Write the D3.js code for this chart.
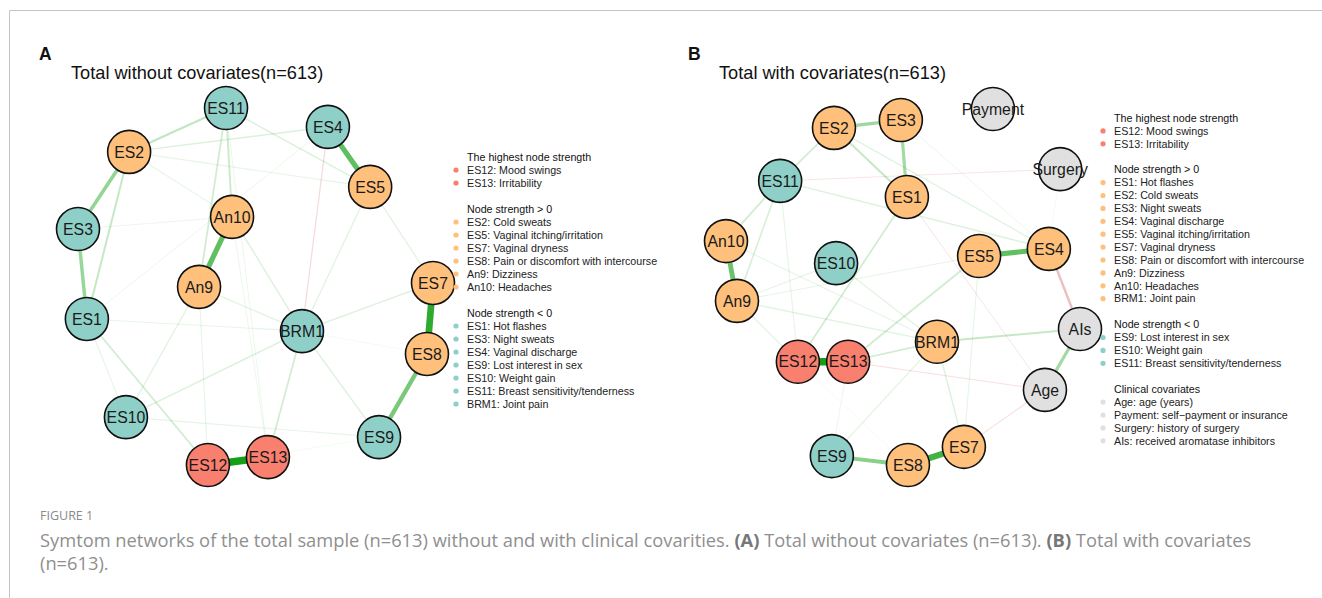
<!DOCTYPE html>
<html>
<head>
<meta charset="utf-8">
<script src="https://cdn.jsdelivr.net/npm/d3@7"></script>
<style>
  body { margin: 0; background: #fff; }
  svg { display: block; }
</style>
</head>
<body>
<div id="chart"></div>
<script>
// symptom networks, total sample, without (A) and with (B) covariates

// node colours by group
const groupColors = { top: "#f97f6f", pos: "#fec07b", neg: "#8ecfc7", cov: "#e0e0e0" };

// layout coordinates (0-100 units)
const nodesA = [
  ["ES11", "neg", 41.7, 100], ["ES4", "neg", 70.4, 94.7], ["ES2", "pos", 14.4, 87.7],
  ["ES5", "pos", 82.3, 77.9], ["An10", "pos", 43.4, 69.5], ["ES3", "neg", 0, 66.1],
  ["An9", "pos", 34.1, 49.9], ["ES1", "neg", 2.5, 40.9], ["BRM1", "neg", 63.1, 37.5],
  ["ES7", "pos", 100, 51.0], ["ES8", "pos", 98.3, 31.1], ["ES10", "neg", 13.5, 13.4],
  ["ES9", "neg", 84.8, 7.8], ["ES12", "top", 36.6, 0], ["ES13", "top", 53.5, 2.2]
];

const nodesB = [
  ["Payment", "cov", 75.4, 100], ["ES2", "pos", 30.5, 94.7], ["ES3", "pos", 49.4, 96.9],
  ["Surgery", "cov", 94.4, 83.1], ["ES11", "neg", 15.3, 79.8], ["ES1", "pos", 51.1, 75.3],
  ["An10", "pos", 0, 62.9], ["ES5", "pos", 71.5, 58.7], ["ES4", "pos", 91.2, 60.7],
  ["ES10", "neg", 31.1, 56.7], ["An9", "pos", 3.1, 46.1], ["AIs", "cov", 100, 38.2],
  ["BRM1", "pos", 59.6, 34.6], ["ES12", "top", 20.3, 29.0], ["ES13", "top", 34.5, 29.0],
  ["Age", "cov", 90.1, 21.1], ["ES7", "pos", 67.2, 5.1], ["ES9", "neg", 29.9, 2.5],
  ["ES8", "pos", 51.4, 0]
];

// partial correlation edges (estimated)
const edgesA = [
  ["ES12", "ES13", 0.45], ["ES7", "ES8", 0.40], ["ES4", "ES5", 0.30], ["An9", "An10", 0.30],
  ["ES8", "ES9", 0.25], ["ES2", "ES3", 0.20], ["ES3", "ES1", 0.19], ["ES11", "ES2", 0.11],
  ["ES2", "ES1", 0.10], ["ES11", "An10", 0.09], ["ES11", "An9", 0.08], ["ES1", "ES12", 0.08],
  ["BRM1", "ES13", 0.08], ["ES11", "ES5", 0.06], ["ES4", "ES2", 0.06], ["ES4", "BRM1", -0.05],
  ["BRM1", "ES7", 0.06], ["BRM1", "ES9", 0.06], ["BRM1", "ES10", 0.06], ["BRM1", "An10", 0.06],
  ["BRM1", "An9", 0.05], ["ES5", "BRM1", 0.05], ["ES5", "ES7", 0.05], ["An9", "ES10", 0.05],
  ["An9", "ES12", 0.04], ["ES10", "ES9", 0.04], ["ES1", "ES10", 0.04], ["ES1", "BRM1", 0.04],
  ["ES3", "An10", 0.03], ["ES2", "An10", 0.04], ["ES4", "ES1", 0.03], ["ES11", "ES13", 0.03],
  ["An10", "ES13", 0.03], ["ES12", "ES9", 0.02], ["ES8", "BRM1", 0.02], ["ES2", "ES5", 0.04]
];

const edgesB = [
  ["ES12", "ES13", 0.45], ["ES7", "ES8", 0.36], ["ES4", "ES5", 0.30], ["An10", "An9", 0.28],
  ["ES9", "ES8", 0.22], ["ES2", "ES3", 0.18], ["ES3", "ES1", 0.17], ["AIs", "Age", 0.17],
  ["ES4", "AIs", -0.12], ["ES2", "ES1", 0.10], ["BRM1", "AIs", 0.10], ["ES2", "ES11", 0.08],
  ["ES11", "An10", 0.08], ["ES11", "An9", 0.07], ["ES13", "BRM1", 0.08], ["ES13", "ES5", 0.08],
  ["ES1", "ES12", 0.08], ["ES11", "ES4", 0.06], ["ES2", "ES4", 0.05], ["ES11", "Surgery", -0.03],
  ["ES13", "Age", -0.04], ["Age", "ES7", -0.04], ["ES1", "Age", -0.03], ["ES9", "BRM1", 0.05],
  ["BRM1", "ES7", 0.06], ["ES5", "ES7", 0.04], ["An9", "BRM1", 0.05], ["An9", "ES12", 0.05],
  ["ES10", "BRM1", 0.05], ["An9", "ES10", 0.04], ["An10", "BRM1", 0.04], ["ES3", "ES4", 0.03],
  ["Surgery", "ES4", 0.02], ["An9", "ES5", 0.04], ["ES9", "ES13", 0.03], ["ES12", "ES8", 0.02],
  ["ES11", "ES12", 0.04]
];

// legends
const legendA = [
  { title: "The highest node strength", group: "top", items: ["ES12: Mood swings", "ES13: Irritability"] },
  { title: "Node strength > 0", group: "pos", items: ["ES2: Cold sweats", "ES5: Vaginal itching/irritation",
      "ES7: Vaginal dryness", "ES8: Pain or discomfort with intercourse", "An9: Dizziness", "An10: Headaches"] },
  { title: "Node strength < 0", group: "neg", items: ["ES1: Hot flashes", "ES3: Night sweats",
      "ES4: Vaginal discharge", "ES9: Lost interest in sex", "ES10: Weight gain",
      "ES11: Breast sensitivity/tenderness", "BRM1: Joint pain"] }
];
const legendB = [
  { title: "The highest node strength", group: "top", items: ["ES12: Mood swings", "ES13: Irritability"] },
  { title: "Node strength > 0", group: "pos", items: ["ES1: Hot flashes", "ES2: Cold sweats",
      "ES3: Night sweats", "ES4: Vaginal discharge", "ES5: Vaginal itching/irritation",
      "ES7: Vaginal dryness", "ES8: Pain or discomfort with intercourse", "An9: Dizziness",
      "An10: Headaches", "BRM1: Joint pain"] },
  { title: "Node strength < 0", group: "neg", items: ["ES9: Lost interest in sex", "ES10: Weight gain",
      "ES11: Breast sensitivity/tenderness"] },
  { title: "Clinical covariates", group: "cov", items: ["Age: age (years)",
      "Payment: self\u2212payment or insurance", "Surgery: history of surgery", "AIs: received aromatase inhibitors"] }
];

const width = 1322, height = 598;
const font = "'Liberation Sans', Arial, sans-serif";

const svg = d3.select("#chart").append("svg")
  .attr("width", width)
  .attr("height", height);

// frame lines
svg.append("line").attr("x1", 9.5).attr("y1", 10.5).attr("x2", width).attr("y2", 10.5)
  .attr("stroke", "#c4c4c4").attr("stroke-width", 1);
svg.append("line").attr("x1", 9.5).attr("y1", 10.5).attr("x2", 9.5).attr("y2", height)
  .attr("stroke", "#c4c4c4").attr("stroke-width", 1);

const widthScale = d3.scaleLinear().domain([0, 0.45]).range([0.5, 7.5]);
const opacityScale = d3.scaleLinear().domain([0, 0.45]).range([0.02, 1]);
const r = 21.5;

function drawNetwork(cfg) {
  const g = svg.append("g");
  const x = d3.scaleLinear().domain([0, 100]).range(cfg.xRange);
  const y = d3.scaleLinear().domain([0, 100]).range(cfg.yRange);
  const pos = new Map(cfg.nodes.map(n => [n[0], [x(n[2]), y(n[3])]]));

  const edges = cfg.edges.slice().sort((a, b) => Math.abs(a[2]) - Math.abs(b[2]));
  g.selectAll("line.edge")
    .data(edges)
    .enter()
    .append("line")
    .attr("class", "edge")
    .attr("x1", d => pos.get(d[0])[0])
    .attr("y1", d => pos.get(d[0])[1])
    .attr("x2", d => pos.get(d[1])[0])
    .attr("y2", d => pos.get(d[1])[1])
    .attr("stroke", d => d[2] > 0 ? "#14a014" : "#d24b4b")
    .attr("stroke-opacity", d => d[2] > 0 ? opacityScale(d[2]) : opacityScale(Math.abs(d[2])) * 1.1 + 0.06)
    .attr("stroke-width", d => widthScale(Math.abs(d[2])));

  const node = g.selectAll("g.node")
    .data(cfg.nodes)
    .enter()
    .append("g")
    .attr("transform", d => `translate(${x(d[2])},${y(d[3])})`);
  node.append("circle")
    .attr("r", r)
    .attr("fill", d => groupColors[d[1]])
    .attr("stroke", "#111")
    .attr("stroke-width", 1.6);
  node.append("text")
    .attr("text-anchor", "middle")
    .attr("dy", "0.36em")
    .attr("font-family", font)
    .attr("font-size", 15.8)
    .attr("fill", "#1a1a1a")
    .text(d => d[0]);

  // panel letter + title
  svg.append("text").attr("x", cfg.letterX).attr("y", 60)
    .attr("font-family", font).attr("font-size", 17.5).attr("font-weight", "bold")
    .attr("fill", "#111").text(cfg.letter);
  svg.append("text").attr("x", cfg.titleX).attr("y", 79)
    .attr("font-family", font).attr("font-size", 18.2)
    .attr("fill", "#111").text(cfg.title);

  // legend
  const lg = svg.append("g").attr("transform", `translate(${cfg.legendX},${cfg.legendY})`);
  let yy = 0;
  cfg.legend.forEach(function (sec, i) {
    if (i > 0) yy += 13;
    lg.append("text").attr("x", 11).attr("y", yy).attr("dy", "0.35em")
      .attr("font-family", font).attr("font-size", 10.7).attr("fill", "#111")
      .text(sec.title);
    yy += cfg.step;
    sec.items.forEach(function (it) {
      lg.append("circle").attr("cx", 0).attr("cy", yy).attr("r", 2.6)
        .attr("fill", groupColors[sec.group]);
      lg.append("text").attr("x", 11).attr("y", yy).attr("dy", "0.35em")
        .attr("font-family", font).attr("font-size", 10.7).attr("fill", "#222")
        .text(it);
      yy += cfg.step;
    });
  });
}

drawNetwork({
  nodes: nodesA, edges: edgesA, xRange: [78, 433], yRange: [465, 108],
  letter: "A", letterX: 39, title: "Total without covariates(n=613)", titleX: 71,
  legend: legendA, legendX: 456, legendY: 157, step: 13
});

drawNetwork({
  nodes: nodesB, edges: edgesB, xRange: [726, 1080], yRange: [465, 109],
  letter: "B", letterX: 688, title: "Total with covariates(n=613)", titleX: 719,
  legend: legendB, legendX: 1103, legendY: 118, step: 12.9
});

// caption
const capFont = "'Open Sans', 'Liberation Sans', sans-serif";
svg.append("text").attr("x", 40).attr("y", 520)
  .attr("font-family", capFont).attr("font-size", 12.5).attr("fill", "#8a8a8a")
  .text("FIGURE 1");

const cap1 = svg.append("text").attr("x", 40).attr("y", 547)
  .attr("font-family", capFont).attr("font-size", 18).attr("fill", "#8f8f8f");
cap1.append("tspan").text("Symtom networks of the total sample (n=613) without and with clinical covarities. ");
cap1.append("tspan").attr("font-weight", "bold").attr("fill", "#777").text("(A)");
cap1.append("tspan").text(" Total without covariates (n=613). ");
cap1.append("tspan").attr("font-weight", "bold").attr("fill", "#777").text("(B)");
cap1.append("tspan").text(" Total with covariates");

// fit first caption line to the reference width
const capW = cap1.node().getComputedTextLength();
const capSize = 18 * 1212 / capW;
cap1.attr("font-size", capSize);

svg.append("text").attr("x", 40).attr("y", 570)
  .attr("font-family", capFont).attr("font-size", capSize).attr("fill", "#8f8f8f")
  .text("(n=613).");
</script>
</body>
</html>
